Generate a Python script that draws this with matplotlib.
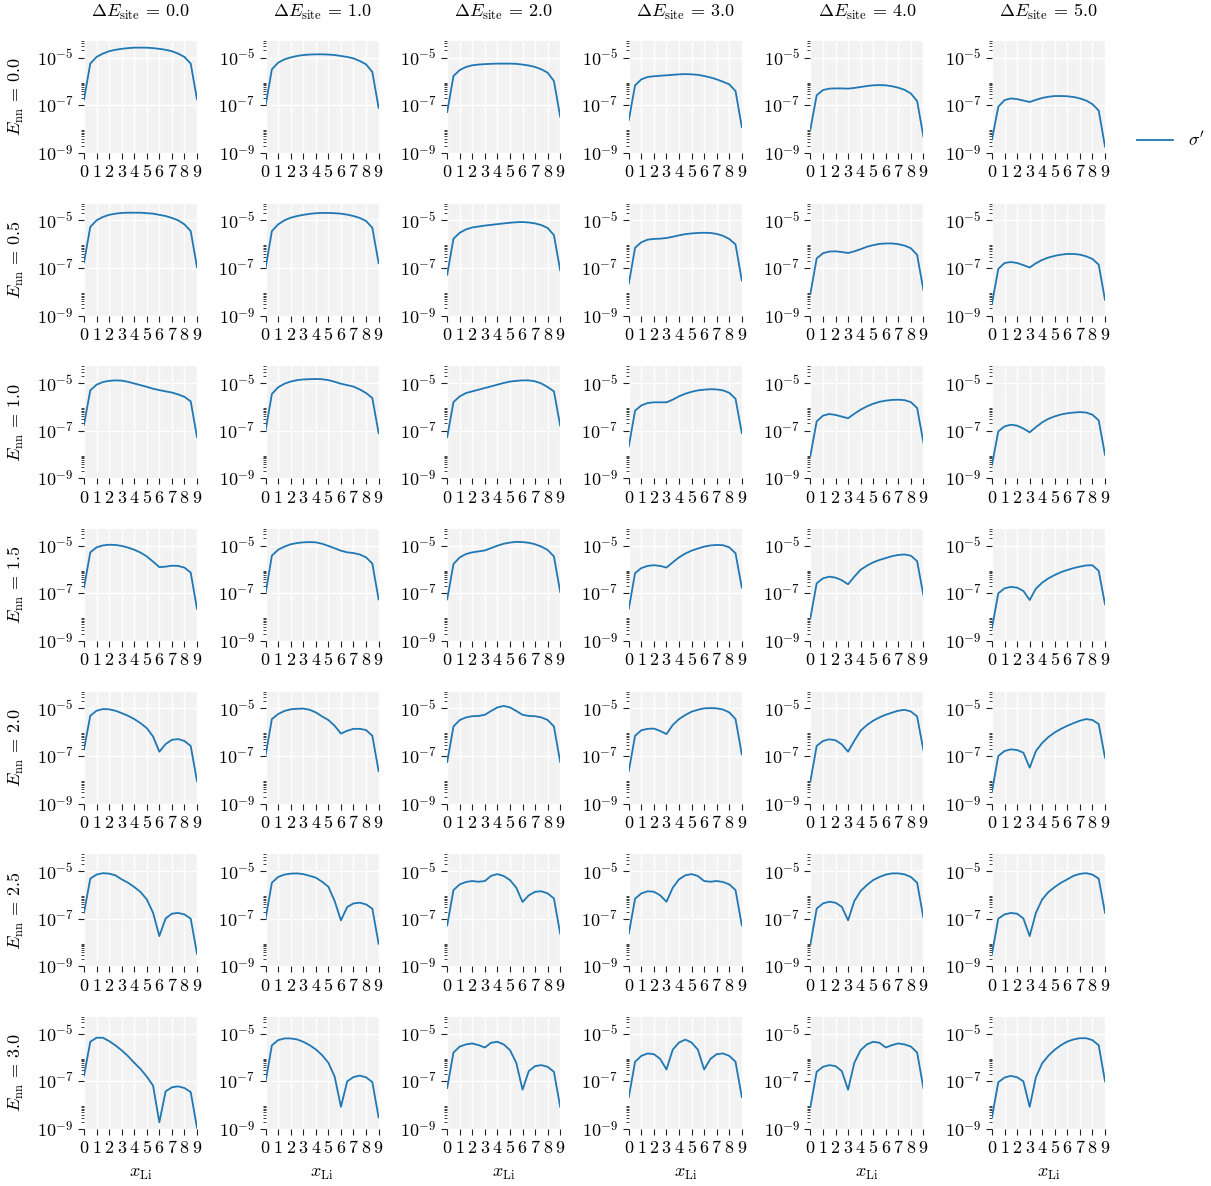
import numpy as np
import matplotlib
matplotlib.use("Agg")
import matplotlib.pyplot as plt
from matplotlib.ticker import FixedLocator, FuncFormatter, NullFormatter

plt.rcParams["mathtext.fontset"] = "cm"
plt.rcParams["font.family"] = ["DejaVu Serif"]

# ---------------- data ----------------
x_li = [0.0, 0.5, 1.0, 1.5, 2.0, 2.5, 3.0, 3.5, 4.0, 4.5,
        5.0, 5.5, 6.0, 6.5, 7.0, 7.5, 8.0, 8.5, 9.0]
e_nn_labels = ["0.0", "0.5", "1.0", "1.5", "2.0", "2.5", "3.0"]
de_site_labels = ["0.0", "1.0", "2.0", "3.0", "4.0", "5.0"]
x_tick_labels = ["0", "1", "2", "3", "4", "5", "6", "7", "8", "9"]
series_label = r"$\sigma'$"

# log10(sigma') for each E_nn row; one list per Delta E_site column
log_sigma_enn_0_0 = [
    [-6.75, -5.25, -4.97, -4.83, -4.73, -4.67, -4.63, -4.60, -4.58, -4.58, -4.58, -4.60, -4.63, -4.67, -4.73, -4.83, -4.97, -5.25, -6.75],
    [-7.00, -5.49, -5.21, -5.07, -4.99, -4.93, -4.89, -4.87, -4.86, -4.86, -4.87, -4.89, -4.93, -4.97, -5.03, -5.14, -5.28, -5.60, -7.10],
    [-7.28, -5.77, -5.52, -5.39, -5.32, -5.29, -5.27, -5.26, -5.25, -5.25, -5.25, -5.26, -5.29, -5.33, -5.39, -5.49, -5.63, -5.98, -7.48],
    [-7.62, -6.16, -5.91, -5.81, -5.78, -5.76, -5.74, -5.72, -5.70, -5.69, -5.70, -5.72, -5.77, -5.83, -5.91, -6.01, -6.12, -6.40, -7.91],
    [-8.00, -6.58, -6.36, -6.30, -6.29, -6.29, -6.30, -6.27, -6.23, -6.19, -6.16, -6.15, -6.16, -6.20, -6.26, -6.35, -6.50, -6.82, -8.31],
    [-8.43, -7.06, -6.78, -6.71, -6.74, -6.80, -6.86, -6.77, -6.69, -6.64, -6.61, -6.61, -6.62, -6.65, -6.71, -6.80, -6.95, -7.22, -8.73],
]
log_sigma_enn_0_5 = [
    [-6.76, -5.28, -5.00, -4.86, -4.77, -4.72, -4.69, -4.68, -4.68, -4.68, -4.70, -4.72, -4.77, -4.82, -4.90, -5.00, -5.17, -5.45, -6.97],
    [-7.00, -5.45, -5.17, -5.00, -4.89, -4.82, -4.77, -4.73, -4.70, -4.69, -4.69, -4.70, -4.72, -4.76, -4.82, -4.90, -5.03, -5.31, -6.79],
    [-7.28, -5.77, -5.52, -5.38, -5.30, -5.26, -5.22, -5.19, -5.16, -5.13, -5.10, -5.08, -5.07, -5.09, -5.13, -5.20, -5.32, -5.62, -7.10],
    [-7.66, -6.15, -5.92, -5.81, -5.78, -5.77, -5.74, -5.69, -5.63, -5.58, -5.55, -5.53, -5.52, -5.53, -5.57, -5.65, -5.78, -6.01, -7.52],
    [-8.08, -6.60, -6.38, -6.31, -6.30, -6.33, -6.37, -6.30, -6.21, -6.11, -6.04, -5.99, -5.97, -5.97, -6.00, -6.06, -6.17, -6.45, -7.92],
    [-8.50, -7.04, -6.79, -6.75, -6.79, -6.88, -6.98, -6.80, -6.66, -6.56, -6.49, -6.44, -6.41, -6.41, -6.44, -6.51, -6.62, -6.86, -8.34],
]
log_sigma_enn_1_0 = [
    [-6.75, -5.31, -5.07, -4.96, -4.91, -4.89, -4.90, -4.95, -5.02, -5.09, -5.16, -5.24, -5.30, -5.35, -5.40, -5.48, -5.58, -5.77, -7.27],
    [-7.00, -5.46, -5.18, -5.03, -4.94, -4.88, -4.85, -4.84, -4.83, -4.84, -4.88, -4.95, -5.03, -5.09, -5.15, -5.27, -5.42, -5.63, -7.10],
    [-7.27, -5.80, -5.56, -5.42, -5.35, -5.28, -5.21, -5.14, -5.07, -5.00, -4.94, -4.91, -4.89, -4.89, -4.93, -5.02, -5.17, -5.35, -6.79],
    [-7.66, -6.16, -5.94, -5.84, -5.81, -5.81, -5.81, -5.70, -5.56, -5.45, -5.37, -5.31, -5.28, -5.26, -5.27, -5.31, -5.41, -5.66, -7.10],
    [-8.05, -6.61, -6.37, -6.30, -6.34, -6.41, -6.48, -6.29, -6.12, -5.98, -5.87, -5.79, -5.74, -5.71, -5.70, -5.72, -5.80, -6.05, -7.49],
    [-8.43, -7.03, -6.82, -6.75, -6.79, -6.91, -7.07, -6.85, -6.65, -6.50, -6.40, -6.32, -6.27, -6.24, -6.22, -6.24, -6.33, -6.57, -8.01],
]
log_sigma_enn_1_5 = [
    [-6.76, -5.28, -5.07, -4.99, -4.96, -4.97, -5.01, -5.08, -5.17, -5.29, -5.45, -5.67, -5.90, -5.88, -5.84, -5.85, -5.92, -6.13, -7.65],
    [-7.00, -5.42, -5.17, -5.04, -4.94, -4.89, -4.86, -4.85, -4.86, -4.92, -5.01, -5.11, -5.21, -5.28, -5.31, -5.37, -5.49, -5.75, -7.25],
    [-7.25, -5.77, -5.49, -5.35, -5.28, -5.24, -5.20, -5.10, -5.00, -4.92, -4.87, -4.84, -4.85, -4.88, -4.94, -5.04, -5.18, -5.45, -6.94],
    [-7.65, -6.15, -5.94, -5.85, -5.82, -5.85, -5.92, -5.70, -5.49, -5.33, -5.21, -5.12, -5.04, -4.99, -4.97, -4.98, -5.07, -5.32, -6.76],
    [-8.03, -6.58, -6.37, -6.30, -6.34, -6.45, -6.62, -6.30, -6.01, -5.84, -5.70, -5.60, -5.52, -5.44, -5.39, -5.37, -5.42, -5.65, -7.08],
    [-8.45, -7.00, -6.79, -6.73, -6.76, -6.90, -7.28, -6.80, -6.55, -6.37, -6.23, -6.11, -6.02, -5.94, -5.88, -5.83, -5.82, -6.06, -7.46],
]
log_sigma_enn_2_0 = [
    [-6.72, -5.31, -5.10, -5.03, -5.04, -5.10, -5.20, -5.31, -5.45, -5.62, -5.83, -6.18, -6.82, -6.50, -6.32, -6.29, -6.37, -6.58, -8.06],
    [-6.97, -5.45, -5.24, -5.11, -5.04, -5.02, -5.01, -5.06, -5.17, -5.34, -5.49, -5.73, -6.06, -5.94, -5.86, -5.86, -5.91, -6.15, -7.63],
    [-7.25, -5.76, -5.49, -5.38, -5.33, -5.32, -5.27, -5.11, -4.96, -4.90, -4.96, -5.11, -5.27, -5.32, -5.33, -5.38, -5.49, -5.76, -7.25],
    [-7.63, -6.15, -5.92, -5.86, -5.85, -5.95, -6.08, -5.70, -5.45, -5.28, -5.14, -5.06, -5.00, -4.99, -5.00, -5.05, -5.17, -5.45, -6.93],
    [-8.06, -6.58, -6.37, -6.30, -6.34, -6.51, -6.82, -6.36, -5.94, -5.70, -5.52, -5.38, -5.27, -5.18, -5.10, -5.06, -5.13, -5.34, -6.75],
    [-8.48, -7.00, -6.79, -6.72, -6.75, -6.86, -7.49, -6.79, -6.45, -6.20, -6.01, -5.86, -5.73, -5.62, -5.52, -5.45, -5.49, -5.66, -7.07],
]
log_sigma_enn_2_5 = [
    [-6.75, -5.32, -5.15, -5.09, -5.11, -5.18, -5.35, -5.49, -5.67, -5.88, -6.19, -6.75, -7.73, -6.99, -6.79, -6.76, -6.82, -7.00, -8.47],
    [-7.00, -5.49, -5.25, -5.15, -5.11, -5.10, -5.13, -5.20, -5.28, -5.45, -5.66, -6.26, -7.07, -6.51, -6.36, -6.33, -6.40, -6.58, -8.05],
    [-7.28, -5.80, -5.56, -5.46, -5.42, -5.45, -5.42, -5.20, -5.13, -5.21, -5.38, -5.70, -6.30, -6.02, -5.87, -5.85, -5.94, -6.15, -7.63],
    [-7.63, -6.16, -5.94, -5.85, -5.87, -6.02, -6.29, -5.70, -5.35, -5.18, -5.13, -5.21, -5.42, -5.45, -5.42, -5.46, -5.56, -5.80, -7.28],
    [-8.08, -6.58, -6.36, -6.29, -6.33, -6.50, -7.07, -6.26, -5.84, -5.59, -5.38, -5.25, -5.15, -5.10, -5.10, -5.14, -5.25, -5.49, -6.96],
    [-8.47, -7.00, -6.82, -6.76, -6.79, -6.99, -7.73, -6.75, -6.19, -5.88, -5.67, -5.49, -5.35, -5.20, -5.12, -5.09, -5.15, -5.32, -6.75],
]
log_sigma_enn_3_0 = [
    [-6.76, -5.34, -5.17, -5.17, -5.31, -5.49, -5.70, -5.94, -6.22, -6.48, -6.80, -7.18, -8.72, -7.42, -7.25, -7.21, -7.28, -7.45, -8.95],
    [-7.00, -5.49, -5.27, -5.20, -5.20, -5.24, -5.34, -5.48, -5.66, -5.90, -6.22, -6.80, -8.07, -7.00, -6.82, -6.76, -6.83, -7.03, -8.51],
    [-7.28, -5.79, -5.54, -5.45, -5.41, -5.48, -5.58, -5.38, -5.34, -5.45, -5.69, -6.22, -7.35, -6.57, -6.36, -6.32, -6.39, -6.60, -8.07],
    [-7.66, -6.18, -5.93, -5.83, -5.86, -6.06, -6.50, -5.67, -5.37, -5.25, -5.37, -5.67, -6.50, -6.06, -5.86, -5.83, -5.93, -6.18, -7.66],
    [-8.07, -6.60, -6.39, -6.32, -6.36, -6.57, -7.35, -6.22, -5.69, -5.45, -5.34, -5.38, -5.58, -5.48, -5.41, -5.45, -5.54, -5.79, -7.28],
    [-8.50, -7.04, -6.84, -6.77, -6.83, -7.00, -8.07, -6.82, -6.24, -5.92, -5.67, -5.48, -5.33, -5.24, -5.19, -5.19, -5.27, -5.49, -7.00],
]

rows = [log_sigma_enn_0_0, log_sigma_enn_0_5, log_sigma_enn_1_0, log_sigma_enn_1_5,
        log_sigma_enn_2_0, log_sigma_enn_2_5, log_sigma_enn_3_0]

# ---------------- layout ----------------
W, H = 1211, 1186
fig = plt.figure(figsize=(W / 100, H / 100), dpi=100)

left0, dx, aw = 84.0, 181.6, 113.0
top0, dy, ah = 41.0, 162.67, 112.0

major_y = [1e-9, 1e-7, 1e-5]
minor_y = [k * 10.0 ** d for d in (-9, -7, -5) for k in range(2, 10)]

line_color = "#1f77b4"
fs = 13
handle = None
for r, row in enumerate(rows):
    for c, vals in enumerate(row):
        l = left0 + c * dx
        t = top0 + r * dy
        ax = fig.add_axes([l / W, 1 - (t + ah) / H, aw / W, ah / H])
        ax.set_facecolor("#f2f2f2")
        ln, = ax.plot(x_li, np.power(10.0, vals), color=line_color, lw=1.3,
                      label=series_label)
        handle = ln
        ax.set_yscale("log")
        ax.set_ylim(1e-9, 5e-5)
        ax.set_xlim(0, 9)
        ax.yaxis.set_major_locator(FixedLocator(major_y))
        ax.yaxis.set_minor_locator(FixedLocator(minor_y))
        ax.yaxis.set_major_formatter(
            FuncFormatter(lambda v, p: r"$10^{%d}$" % int(round(np.log10(v)))))
        ax.yaxis.set_minor_formatter(NullFormatter())
        ax.set_xticks(range(10))
        ax.set_xticklabels([f"${s}$" for s in x_tick_labels])
        ax.grid(True, which="major", color="white", lw=1.0)
        ax.set_axisbelow(True)
        for s in ax.spines.values():
            s.set_visible(False)
        ax.tick_params(which="major", length=4, width=0.8, color="#222222",
                       labelsize=fs, pad=3.5)
        ax.tick_params(which="minor", length=2, width=0.6, color="#222222")

        if r == 0:
            fig.text((l + aw / 2) / W, 1 - 12 / H,
                     r"$\Delta E_\mathrm{site}\,=\,%s$" % de_site_labels[c],
                     ha="center", va="center", fontsize=fs)
        if c == 0:
            fig.text(16 / W, 1 - (t + ah / 2) / H,
                     r"$E_\mathrm{nn}\,=\,%s$" % e_nn_labels[r],
                     ha="center", va="center", rotation=90, fontsize=fs)
        if r == len(rows) - 1:
            fig.text((l + aw / 2) / W, 1 - 1173 / H, r"$x_\mathrm{Li}$",
                     ha="center", va="center", fontsize=fs)

fig.legend([handle], [series_label], loc="center left",
           bbox_to_anchor=(1121 / W, 1 - 141 / H), frameon=False, fontsize=fs)

fig.savefig("out.png", dpi=100)
